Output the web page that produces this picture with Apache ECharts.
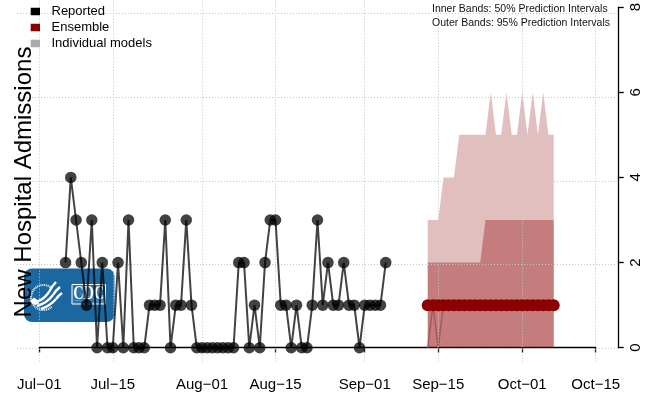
<!DOCTYPE html>
<html>
<head>
<meta charset="utf-8">
<script src="https://cdn.jsdelivr.net/npm/echarts@6/dist/echarts.min.js"></script>
<style>
  html, body { margin: 0; padding: 0; background: #fff; }
  #chart { width: 653px; height: 396px; }
</style>
</head>
<body>
<div id="chart"></div>
<script>
// ---- data -------------------------------------------------------------
const MONTHS = ['Jan','Feb','Mar','Apr','May','Jun','Jul','Aug','Sep','Oct','Nov','Dec'];
const axisFirstDay = [6, 1];      // Jul 1 (month index, day)
const axisDayCount = 107;         // Jul 1 .. Oct 15

const tickLabels = ['Jul\u221201', 'Jul\u221215', 'Aug\u221201', 'Aug\u221215',
                    'Sep\u221201', 'Sep\u221215', 'Oct\u221201', 'Oct\u221215'];
const yTicks = [0, 2, 4, 6, 8];

// Reported daily admissions, from Jul 6 onward
const reportedStart = 'Jul\u221206';
const reportedValues = [2, 4, 3, 2, 1, 3, 0, 2, 0, 0, 2, 0, 3, 0, 0, 0, 1, 1, 1, 3,
                        0, 1, 1, 3, 1, 0, 0, 0, 0, 0, 0, 0, 0, 2, 2, 0, 1, 0, 2, 3,
                        3, 1, 1, 0, 1, 0, 0, 1, 3, 1, 2, 1, 1, 2, 1, 1, 0, 1, 1, 1,
                        1, 2];

// Ensemble forecast, from Sep 13 onward
const forecastStart = 'Sep\u221213';
const ensembleValues = [1, 1, 1, 1, 1, 1, 1, 1, 1, 1, 1, 1, 1, 1, 1, 1, 1, 1, 1, 1, 1, 1, 1, 1, 1];
const upper95 = [3, 3, 3, 4, 4, 4, 5, 5, 5, 5, 5, 5, 6, 5, 5, 6, 5, 5, 6, 5, 6, 5, 6, 5, 5];
const upper50 = [2, 2, 2, 2, 2, 2, 2, 2, 2, 2, 2, 3, 3, 3, 3, 3, 3, 3, 3, 3, 3, 3, 3, 3, 3];
const lower50 = [0, 1, 0, 1, 1, 1, 1, 1, 1, 1, 1, 1, 1, 1, 1, 1, 1, 1, 1, 1, 1, 1, 1, 1, 1];

// ---- helpers ----------------------------------------------------------
const dayLabels = [];
{
  const d = new Date(Date.UTC(2021, axisFirstDay[0], axisFirstDay[1]));
  for (let i = 0; i < axisDayCount; i++) {
    dayLabels.push(MONTHS[d.getUTCMonth()] + '\u2212' + String(d.getUTCDate()).padStart(2, '0'));
    d.setUTCDate(d.getUTCDate() + 1);
  }
}
const tickIndex = tickLabels.map(l => dayLabels.indexOf(l));
const isTick = (i) => tickIndex.indexOf(i) >= 0;
const seriesFrom = (start, values) => {
  const s = dayLabels.indexOf(start);
  return values.map((v, i) => [dayLabels[s + i], v]);
};

const FONT = '"Liberation Sans", Arial, Helvetica, sans-serif';
const REPORTED_COLOR = 'rgba(0,0,0,0.74)';
const ENSEMBLE_COLOR = '#8b0000';
const chart = echarts.init(document.getElementById('chart'), null, { renderer: 'canvas' });

// white swoosh of the HHS emblem, as one quadratic curve segment
const swoosh = (x1, y1, cx, cy, x2, y2) => ({
  type: 'bezierCurve',
  shape: { x1: x1, y1: y1, cpx1: cx, cpy1: cy, x2: x2, y2: y2 },
  style: { stroke: '#fff', lineWidth: 2.4, fill: null }
});
const ray = (x2, y2) => ({
  type: 'line', shape: { x1: 105, y1: 304, x2: x2, y2: y2 },
  style: { stroke: 'rgba(255,255,255,0.45)', lineWidth: 0.6 }
});

const option = {
  animation: false,
  backgroundColor: '#fff',
  textStyle: { fontFamily: FONT },
  grid: [
    // axis frame: Jul 1 .. Oct 15, 0 .. 8
    { left: 39.3, right: 57.3, top: -1.7, bottom: 48.3 },
    // padded plotting region used for the dotted reference grid
    { left: 17, right: 35, top: -15.7, bottom: 34.3 }
  ],
  xAxis: [
    {
      gridIndex: 0, type: 'category', data: dayLabels, boundaryGap: false,
      position: 'bottom', offset: 15,
      axisLine: { show: true, lineStyle: { color: '#000', width: 1.3 } },
      axisTick: { show: true, length: 5, interval: (i) => isTick(i), lineStyle: { color: '#000', width: 1.3 } },
      axisLabel: { interval: (i) => isTick(i), color: '#000', fontSize: 15, fontFamily: FONT, margin: 14.5 },
      splitLine: { show: false }
    },
    { gridIndex: 1, type: 'value', min: -4.24, max: 110.24, show: false }
  ],
  yAxis: [
    {
      gridIndex: 0, type: 'value', min: 0, max: 8, interval: 2,
      position: 'right', offset: 23,
      axisLine: { show: true, lineStyle: { color: '#000', width: 1.3 } },
      axisTick: { show: true, inside: false, length: 5, lineStyle: { color: '#000', width: 1.3 } },
      axisLabel: { rotate: 90, color: '#000', fontSize: 15, fontFamily: FONT, margin: 10 },
      splitLine: { show: false }
    },
    { gridIndex: 1, type: 'value', min: -0.32, max: 8.32, show: false }
  ],
  legend: {
    orient: 'vertical', left: 30.7, top: 4.5, padding: 0, z: 20,
    icon: 'rect', itemWidth: 9.3, itemHeight: 7.5, itemGap: 2,
    selectedMode: false,
    itemStyle: { borderWidth: 0, opacity: 1 },
    textStyle: { fontSize: 13, color: '#000', fontFamily: FONT, lineHeight: 14, padding: [0, 0, 0, 6.5] },
    data: [
      { name: 'Reported', itemStyle: { color: '#000000', opacity: 1 } },
      { name: 'Ensemble', itemStyle: { color: ENSEMBLE_COLOR, opacity: 1 } },
      { name: 'Individual models', itemStyle: { color: '#aaaaaa', opacity: 1 } }
    ]
  },
  series: [
    {
      // dotted reference grid across the padded plotting region
      name: 'grid', type: 'line', xAxisIndex: 1, yAxisIndex: 1, data: [], z: 1, silent: true,
      markLine: {
        silent: true, symbol: ['none', 'none'], animation: false,
        label: { show: false },
        lineStyle: { type: [1, 2], color: '#c4c4c4', width: 1 },
        emphasis: { disabled: true },
        data: [
          ...yTicks.map(v => ({ yAxis: v })),
          ...tickIndex.map(d => ({ xAxis: d }))
        ]
      }
    },
    // points first so the legend takes its square icon from them
    {
      name: 'Reported', type: 'scatter', xAxisIndex: 0, yAxisIndex: 0, z: 7, clip: false,
      data: seriesFrom(reportedStart, reportedValues),
      symbol: 'circle', symbolSize: 11.5,
      itemStyle: { color: REPORTED_COLOR, borderWidth: 0, opacity: 1 }
    },
    {
      name: 'Ensemble', type: 'scatter', xAxisIndex: 0, yAxisIndex: 0, z: 5, clip: false,
      data: seriesFrom(forecastStart, ensembleValues),
      symbol: 'circle', symbolSize: 12,
      itemStyle: { color: ENSEMBLE_COLOR, borderWidth: 0, opacity: 1 }
    },
    {
      name: 'Individual models', type: 'scatter', xAxisIndex: 0, yAxisIndex: 0, data: [],
      itemStyle: { color: '#aaaaaa' }
    },
    {
      name: 'Ensemble 95% PI', type: 'line', xAxisIndex: 0, yAxisIndex: 0, z: 2, clip: false,
      data: seriesFrom(forecastStart, upper95), symbol: 'none', silent: true,
      lineStyle: { width: 0, opacity: 0 },
      areaStyle: { color: 'rgba(139,0,0,0.25)', opacity: 1 }
    },
    {
      name: 'Ensemble 50% PI', type: 'line', xAxisIndex: 0, yAxisIndex: 0, z: 3, clip: false,
      data: seriesFrom(forecastStart, upper50), symbol: 'none', silent: true,
      lineStyle: { width: 0, opacity: 0 },
      areaStyle: { color: 'rgba(139,0,0,0.35)', opacity: 1 }
    },
    {
      name: 'Ensemble 50% PI lower', type: 'line', xAxisIndex: 0, yAxisIndex: 0, z: 4, clip: false,
      data: seriesFrom(forecastStart, lower50), symbol: 'none', silent: true,
      lineStyle: { width: 1.5, color: '#a55a5a' }
    },
    {
      name: 'Ensemble', type: 'line', xAxisIndex: 0, yAxisIndex: 0, z: 4, clip: false,
      data: seriesFrom(forecastStart, ensembleValues), symbol: 'none',
      lineStyle: { color: ENSEMBLE_COLOR, width: 2 }
    },
    {
      name: 'Reported', type: 'line', xAxisIndex: 0, yAxisIndex: 0, z: 6, clip: false,
      data: seriesFrom(reportedStart, reportedValues), symbol: 'none',
      lineStyle: { color: REPORTED_COLOR, width: 2 }
    }
  ],
  graphic: [
    {
      type: 'text', x: 24.5, y: 182, rotation: Math.PI / 2, z: 50,
      style: { text: 'New Hospital Admissions', font: '24px ' + FONT, fill: '#000',
               align: 'center', verticalAlign: 'middle' }
    },
    {
      type: 'text', x: 432, y: 9.5, z: 50,
      style: { text: 'Inner Bands: 50% Prediction Intervals', font: '10.5px ' + FONT, fill: '#111',
               align: 'left', verticalAlign: 'middle' }
    },
    {
      type: 'text', x: 432, y: 23, z: 50,
      style: { text: 'Outer Bands: 95% Prediction Intervals', font: '10.5px ' + FONT, fill: '#111',
               align: 'left', verticalAlign: 'middle' }
    },
    {
      // CDC / HHS badge
      type: 'group', z: 100,
      children: [
        { type: 'rect', shape: { x: 24, y: 268.5, width: 90.5, height: 53.5, r: 8 },
          style: { fill: '#1b67a0' } },
        { type: 'arc', shape: { cx: 43.5, cy: 297.5, r: 12.5, startAngle: 0.85, endAngle: 5.45, clockwise: true },
          style: { stroke: '#fff', lineWidth: 2.2, lineDash: [1, 0.8], fill: null, opacity: 0.9 } },
        swoosh(33, 303, 43, 301, 49, 292), swoosh(49, 292, 52, 286, 56, 282),
        swoosh(37, 306, 47, 303, 53, 295), swoosh(53, 295, 56, 290, 60, 287),
        swoosh(41, 309, 50, 306, 56, 299), swoosh(56, 299, 59, 295, 62, 293),
        { type: 'polygon', shape: { points: [[30, 301], [34, 297.5], [37.5, 300], [39, 304], [34, 305]] },
          style: { fill: '#fff' } },
        { type: 'rect', shape: { x: 72, y: 284.5, width: 33.5, height: 19.5 },
          style: { fill: '#2a74ad', stroke: '#fff', lineWidth: 1 } },
        ray(88, 285), ray(96, 285), ray(104, 285), ray(80, 293), ray(74, 300),
        { type: 'text', x: 88.8, y: 294.8, scaleX: 0.8,
          style: { text: 'CDC', font: 'bold 18px "Liberation Serif", "Times New Roman", serif', fill: '#fff',
                   align: 'center', verticalAlign: 'middle' } }
      ]
    }
  ]
};

chart.setOption(option);
</script>
</body>
</html>
